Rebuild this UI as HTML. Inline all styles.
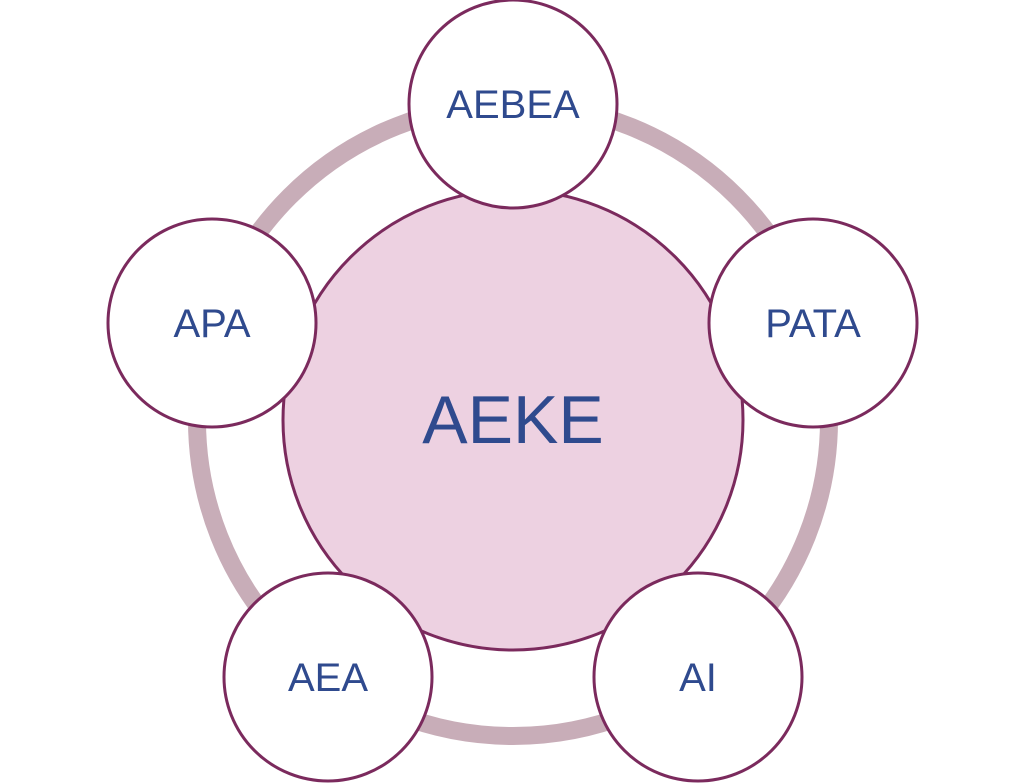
<!DOCTYPE html>
<html><head><meta charset="utf-8"><style>html,body{margin:0;padding:0;background:#fff;}svg{display:block}</style></head>
<body>
<svg width="1024" height="784" viewBox="0 0 1024 784" xmlns="http://www.w3.org/2000/svg" font-family="'Liberation Sans', sans-serif">
<rect width="1024" height="784" fill="#fff"/>
<circle cx="513" cy="420" r="316" fill="none" stroke="#c8adb8" stroke-width="18"/>
<circle cx="513" cy="420" r="230" fill="#edd1e1" stroke="#7b2a5d" stroke-width="3"/>
<text x="513" y="443" text-anchor="middle" font-size="68" fill="#2f4a8e">AEKE</text>
<g fill="#fff" stroke="#7b2a5d" stroke-width="3">
<circle cx="513" cy="104" r="104"/>
<circle cx="212" cy="323" r="104"/>
<circle cx="813" cy="323" r="104"/>
<circle cx="328" cy="677" r="104"/>
<circle cx="698" cy="677" r="104"/>
</g>
<g font-size="40" fill="#2f4a8e" text-anchor="middle">
<text x="513" y="118">AEBEA</text>
<text x="212" y="337">APA</text>
<text x="813" y="337">PATA</text>
<text x="328" y="691">AEA</text>
<text x="698" y="691">AI</text>
</g>
</svg>
</body></html>
